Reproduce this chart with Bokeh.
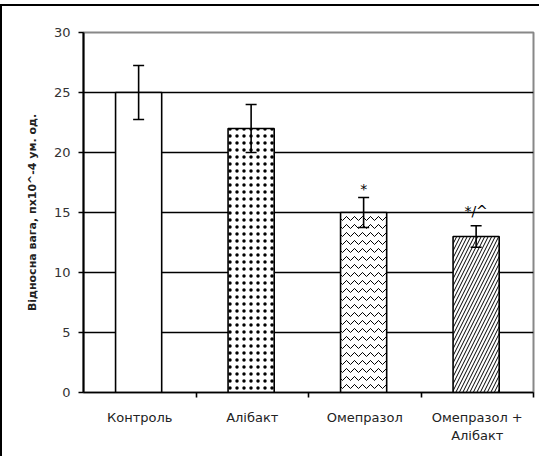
from bokeh.plotting import figure
from bokeh.models import (ColumnDataSource, Whisker, FixedTicker, Range1d)
from bokeh.core.properties import value
from bokeh.embed import file_html
from bokeh.resources import INLINE

categories = ["Контроль", "Алібакт", "Омепразол", "Омепразол +\nАлібакт"]
values = [25, 22, 15, 13]
errors = [2.25, 2.0, 1.25, 0.9]
marks = ["", "", "*", "*/^"]
marks_y = [0, 0, 17.0, 15.1]
hatches = [" ", "dot", "horizontal_wave", "right_diagonal_line"]
hatch_scales = [8, 7, 8, 7]
y_ticks = [0, 5, 10, 15, 20, 25, 30]
y_label = "Відносна вага, пх10^-4 ум. од."

xs = [i + 0.49 for i in range(len(categories))]
src = ColumnDataSource(dict(
    x=xs, top=values, upper=[v + e for v, e in zip(values, errors)],
    lower=[v - e for v, e in zip(values, errors)], hatch=hatches,
    hscale=hatch_scales, mark=marks, mark_y=marks_y,
))

p = figure(width=539, height=452, output_backend="svg", toolbar_location=None,
           x_range=Range1d(0, 4), y_range=Range1d(0, 30),
           min_border_left=81, min_border_right=8, min_border_top=26,
           min_border_bottom=66)
p.styles = {"margin-top": "4px", "border-top": "2px solid black",
            "border-left": "2px solid black"}
p.background_fill_color = "white"
p.border_fill_color = "white"
p.outline_line_color = "#888888"
p.outline_line_width = 2

p.xgrid.visible = False
p.ygrid.ticker = FixedTicker(ticks=[5, 10, 15, 20, 25])
p.ygrid.grid_line_color = "black"
p.ygrid.grid_line_width = 1.6

p.vbar(x="x", top="top", bottom=0, width=0.41, source=src,
       fill_color="white", line_color="black", line_width=1.6,
       hatch_pattern="hatch", hatch_color="black", hatch_scale="hscale",
       hatch_weight=1.0)

w = Whisker(base="x", upper="upper", lower="lower", source=src,
            line_color="black", line_width=1.6, level="overlay")
w.upper_head.size = 11
w.lower_head.size = 11
w.upper_head.line_width = 1.6
w.lower_head.line_width = 1.6
p.add_layout(w)

p.text(x="x", y="mark_y", text="mark", source=src, text_align="center",
       text_baseline="middle", text_font_size="14px",
       text_font=value("DejaVu Sans"), text_color="black")

# x axis
xa = p.xaxis[0]
xa.ticker = FixedTicker(ticks=[0.5, 1.5, 2.5, 3.5], minor_ticks=[1, 2, 3, 4])
xa.major_label_overrides = {0.5: categories[0], 1.5: categories[1],
                            2.5: categories[2], 3.5: categories[3]}
xa.major_tick_out = 0
xa.major_tick_in = 0
xa.minor_tick_out = 5
xa.minor_tick_in = 0
xa.minor_tick_line_color = "black"
xa.minor_tick_line_width = 1.6
xa.axis_line_color = "black"
xa.axis_line_width = 1.6
xa.major_label_text_font = "DejaVu Sans"
xa.major_label_text_font_size = "13px"
xa.major_label_text_color = "#222222"
xa.major_label_standoff = 12

ya = p.yaxis[0]
ya.ticker = FixedTicker(ticks=y_ticks)
ya.minor_tick_line_color = None
ya.major_tick_out = 5
ya.major_tick_in = 0
ya.major_tick_line_color = "black"
ya.major_tick_line_width = 1.6
ya.axis_line_color = "black"
ya.axis_line_width = 2
ya.major_label_text_font = "DejaVu Sans"
ya.major_label_text_font_size = "13px"
ya.major_label_text_color = "#333333"
ya.major_label_standoff = 8
ya.axis_label = y_label
ya.axis_label_text_font = "DejaVu Sans"
ya.axis_label_text_font_size = "11px"
ya.axis_label_text_font_style = "bold"
ya.axis_label_text_color = "#222222"
ya.axis_label_standoff = 12

open("out.html", "w").write(file_html(p, INLINE))
